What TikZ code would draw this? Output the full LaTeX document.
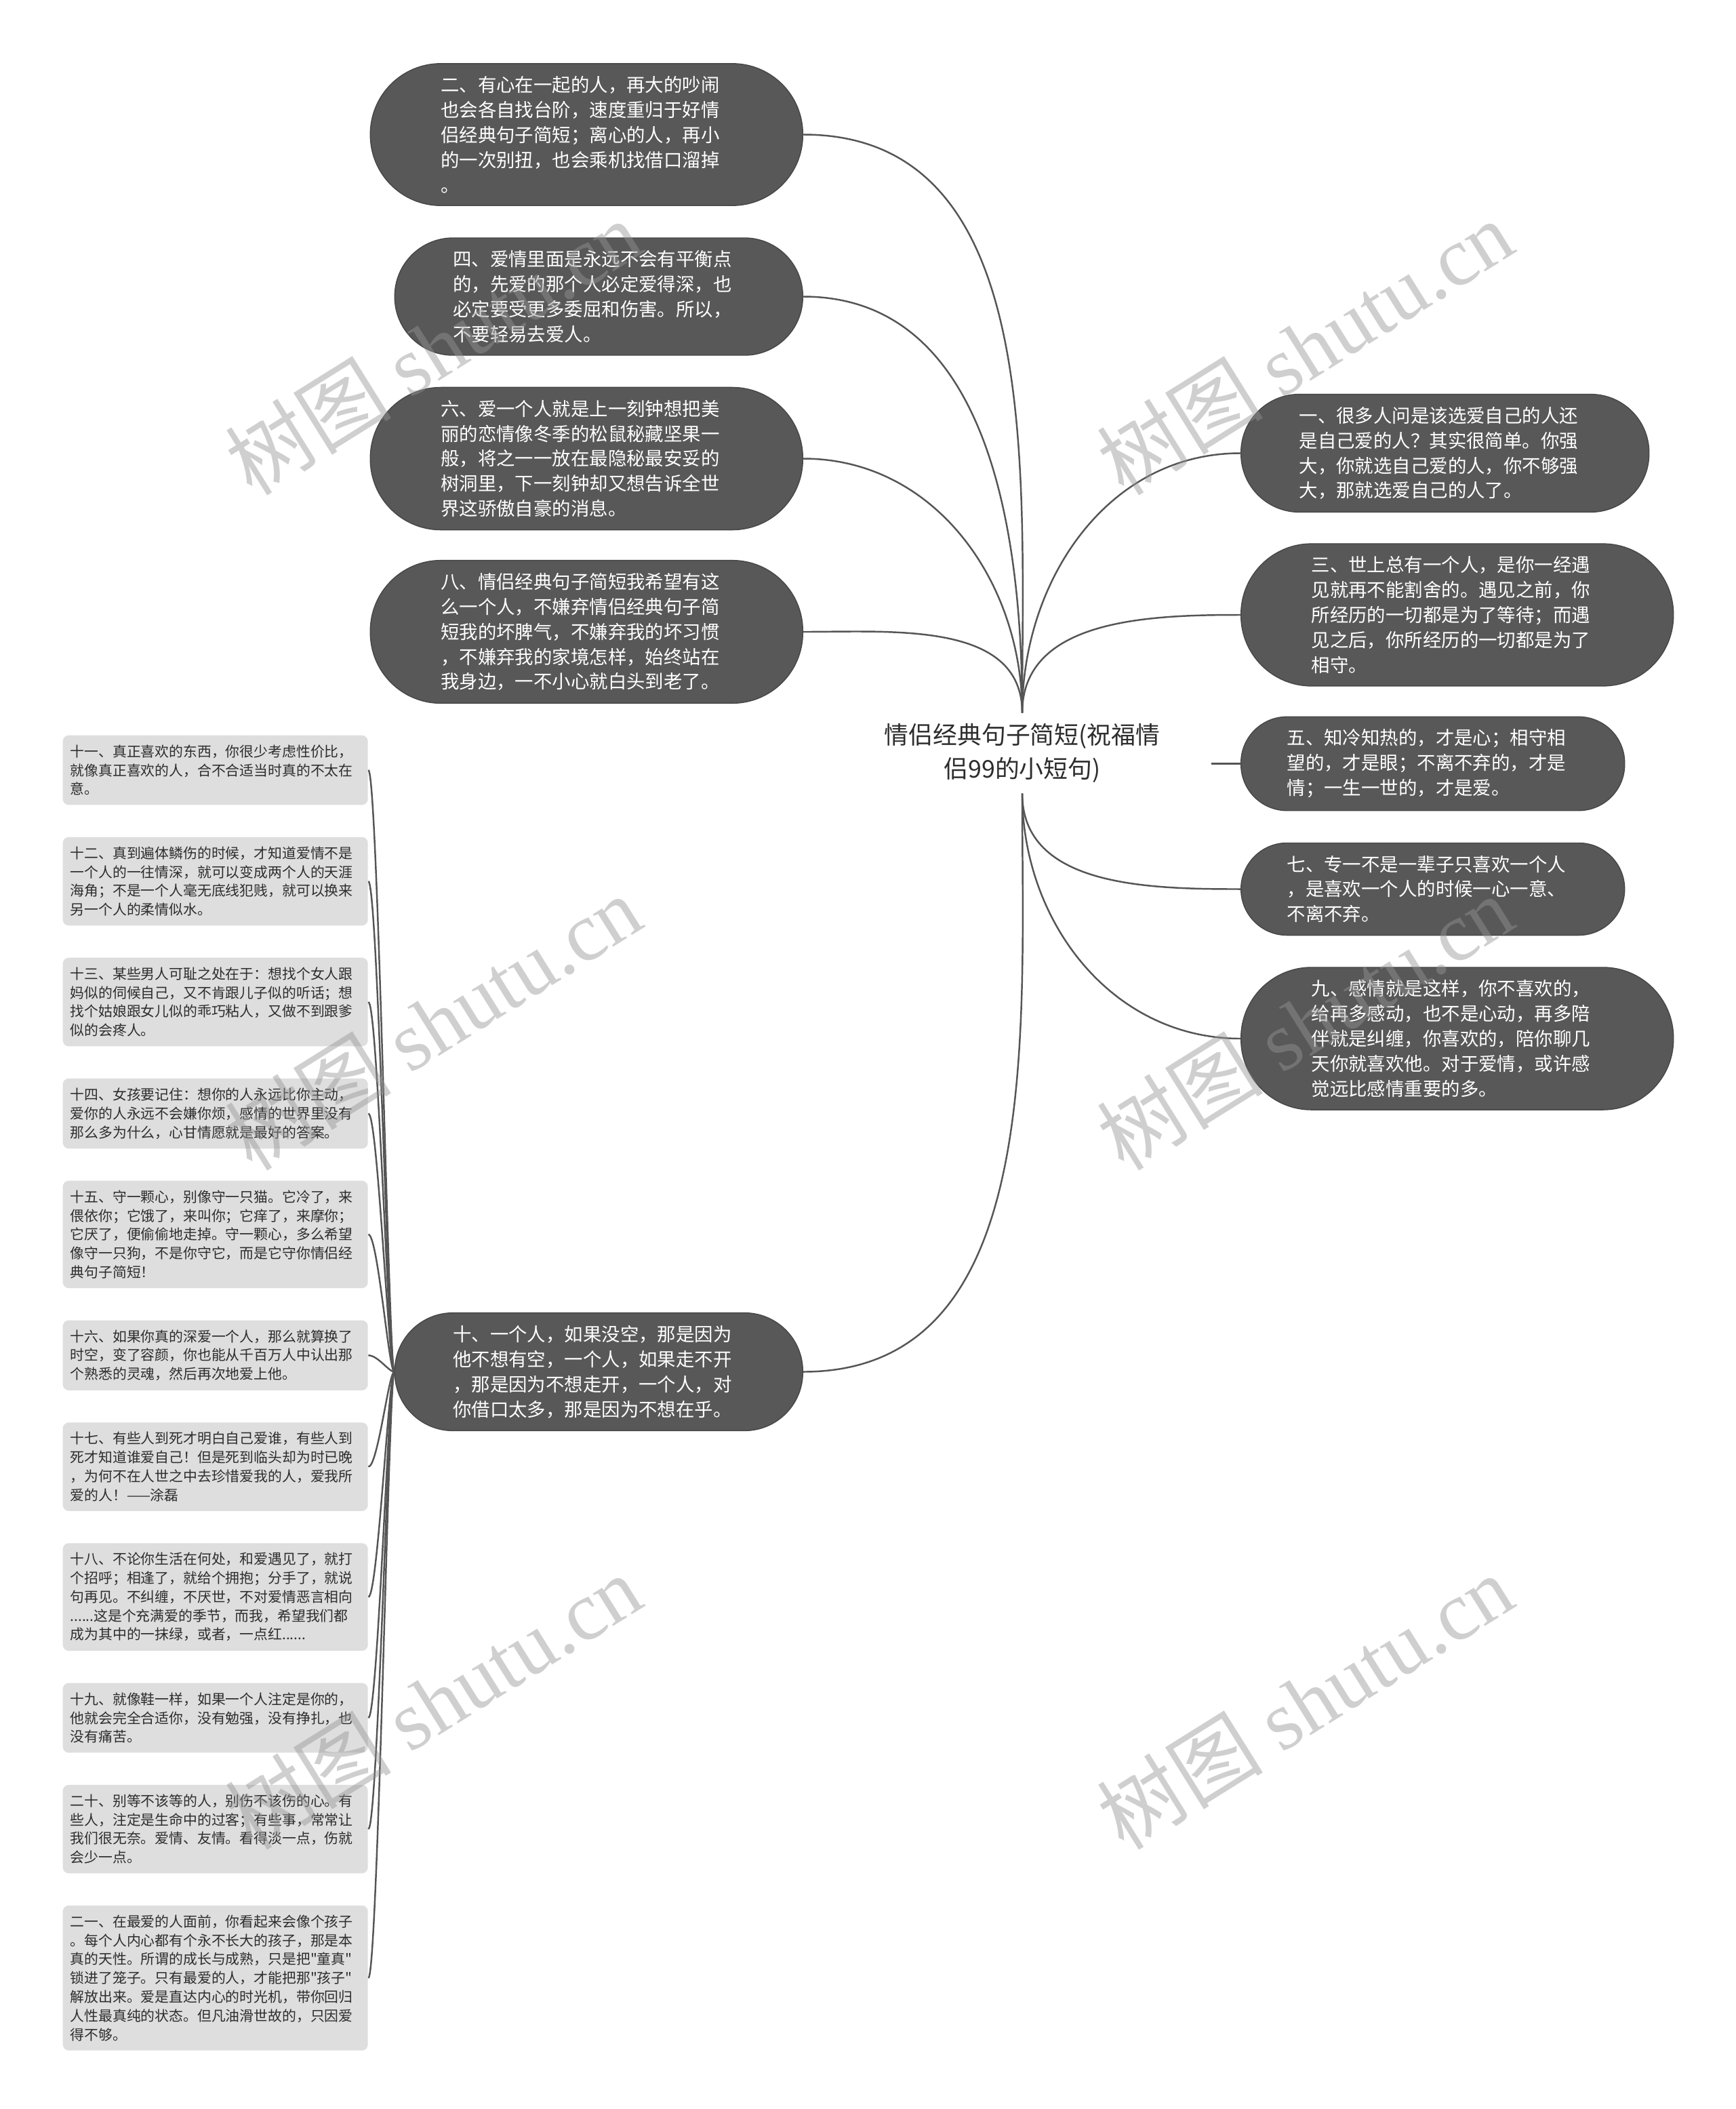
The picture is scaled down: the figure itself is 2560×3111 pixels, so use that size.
\documentclass[tikz,border=0pt]{standalone}
\usepackage{fontspec}
\newfontfamily\cjk{Noto Sans CJK SC}
\newfontfamily\wmserif{Liberation Serif}
\usetikzlibrary{positioning}
\definecolor{leafgray}{RGB}{88,88,88}
\definecolor{leafedge}{RGB}{70,70,70}
\definecolor{notegray}{RGB}{222,222,222}
\definecolor{linkgray}{RGB}{85,85,85}
\definecolor{inkgray}{RGB}{45,45,45}
\definecolor{wmgray}{RGB}{150,150,150}
\tikzset{
  hub/.style={align=center, inner xsep=7.5mm, inner ysep=1.5mm, text=inkgray,
              font=\cjk\fontsize{10.2}{14.2}\selectfont},
  leaf/.style={rectangle, rounded corners=#1, inner xsep=#1, draw=leafedge, fill=leafgray,
               line width=0.4pt, text=white, text width=43mm, align=left, inner ysep=1.85mm,
               font=\cjk\fontsize{7.8}{10.5}\selectfont},
  leaf/.default=10.4mm,
  note/.style={rounded corners=2.5pt, fill=notegray, text=inkgray, text width=42.8mm,
               align=left, inner xsep=1.1mm, inner ysep=1.4mm,
               font=\cjk\fontsize{5.93}{7.9}\selectfont},
  link/.style={draw=linkgray, line width=0.7pt},
  wmark/.style={text=wmgray, opacity=0.45, rotate=32, font=\cjk\fontsize{35}{35}\selectfont},
}

\begin{document}
\begin{tikzpicture}[x=0.1mm, y=0.1mm, node distance=4.6mm]
  \fill[white] (0,0) rectangle (2560,-3111);
  \node[hub] (root) at (1508,-1111) {情侣经典句子简短(祝福情\\侣99的小短句)};

  % left branch
  \node[leaf, anchor=east] (n2) at (1185,-198.5) {二、有心在一起的人，再大的吵闹\\也会各自找台阶，速度重归于好情\\侣经典句子简短；离心的人，再小\\的一次别扭，也会乘机找借口溜掉\\。};
  \node[leaf=8.6mm, anchor=east] (n4) at (1185,-437.5) {四、爱情里面是永远不会有平衡点\\的，先爱的那个人必定爱得深，也\\必定要受更多委屈和伤害。所以，\\不要轻易去爱人。};
  \node[leaf, anchor=east] (n6) at (1185,-676.5) {六、爱一个人就是上一刻钟想把美\\丽的恋情像冬季的松鼠秘藏坚果一\\般，将之一一放在最隐秘最安妥的\\树洞里，下一刻钟却又想告诉全世\\界这骄傲自豪的消息。};
  \node[leaf, anchor=east] (n8) at (1185,-932) {八、情侣经典句子简短我希望有这\\么一个人，不嫌弃情侣经典句子简\\短我的坏脾气，不嫌弃我的坏习惯\\，不嫌弃我的家境怎样，始终站在\\我身边，一不小心就白头到老了。};
  \node[leaf=8.6mm, anchor=east] (n10) at (1185,-2023.5) {十、一个人，如果没空，那是因为\\他不想有空，一个人，如果走不开\\，那是因为不想走开，一个人，对\\你借口太多，那是因为不想在乎。};

  % right branch
  \node[leaf=8.6mm, anchor=west] (n1) at (1830,-668.5) {一、很多人问是该选爱自己的人还\\是自己爱的人？其实很简单。你强\\大，你就选自己爱的人，你不够强\\大，那就选爱自己的人了。};
  \node[leaf, anchor=west] (n3) at (1830,-907) {三、世上总有一个人，是你一经遇\\见就再不能割舍的。遇见之前，你\\所经历的一切都是为了等待；而遇\\见之后，你所经历的一切都是为了\\相守。};
  \node[leaf=6.8mm, anchor=west] (n5) at (1830,-1126.5) {五、知冷知热的，才是心；相守相\\望的，才是眼；不离不弃的，才是\\情；一生一世的，才是爱。};
  \node[leaf=6.8mm, anchor=west] (n7) at (1830,-1311.5) {七、专一不是一辈子只喜欢一个人\\，是喜欢一个人的时候一心一意、\\不离不弃。};
  \node[leaf, anchor=west] (n9) at (1830,-1532) {九、感情就是这样，你不喜欢的，\\给再多感动，也不是心动，再多陪\\伴就是纠缠，你喜欢的，陪你聊几\\天你就喜欢他。对于爱情，或许感\\觉远比感情重要的多。};

  % notes hanging off ten
  \node[note, anchor=north west] (s11) at (92,-1084) {十一、真正喜欢的东西，你很少考虑性价比，\\就像真正喜欢的人，合不合适当时真的不太在\\意。};
  \node[note, below=of s11] (s12) {十二、真到遍体鳞伤的时候，才知道爱情不是\\一个人的一往情深，就可以变成两个人的天涯\\海角；不是一个人毫无底线犯贱，就可以换来\\另一个人的柔情似水。};
  \node[note, below=of s12] (s13) {十三、某些男人可耻之处在于：想找个女人跟\\妈似的伺候自己，又不肯跟儿子似的听话；想\\找个姑娘跟女儿似的乖巧粘人，又做不到跟爹\\似的会疼人。};
  \node[note, below=of s13] (s14) {十四、女孩要记住：想你的人永远比你主动，\\爱你的人永远不会嫌你烦，感情的世界里没有\\那么多为什么，心甘情愿就是最好的答案。};
  \node[note, below=of s14] (s15) {十五、守一颗心，别像守一只猫。它冷了，来\\偎依你；它饿了，来叫你；它痒了，来摩你；\\它厌了，便偷偷地走掉。守一颗心，多么希望\\像守一只狗，不是你守它，而是它守你情侣经\\典句子简短！};
  \node[note, below=of s15] (s16) {十六、如果你真的深爱一个人，那么就算换了\\时空，变了容颜，你也能从千百万人中认出那\\个熟悉的灵魂，然后再次地爱上他。};
  \node[note, below=of s16] (s17) {十七、有些人到死才明白自己爱谁，有些人到\\死才知道谁爱自己！但是死到临头却为时已晚\\，为何不在人世之中去珍惜爱我的人，爱我所\\爱的人！——涂磊};
  \node[note, below=of s17] (s18) {十八、不论你生活在何处，和爱遇见了，就打\\个招呼；相逢了，就给个拥抱；分手了，就说\\句再见。不纠缠，不厌世，不对爱情恶言相向\\......这是个充满爱的季节，而我，希望我们都\\成为其中的一抹绿，或者，一点红......};
  \node[note, below=of s18] (s19) {十九、就像鞋一样，如果一个人注定是你的，\\他就会完全合适你，没有勉强，没有挣扎，也\\没有痛苦。};
  \node[note, below=of s19] (s20) {二十、别等不该等的人，别伤不该伤的心。有\\些人，注定是生命中的过客；有些事，常常让\\我们很无奈。爱情、友情。看得淡一点，伤就\\会少一点。};
  \node[note, below=of s20] (s21) {二一、在最爱的人面前，你看起来会像个孩子\\。每个人内心都有个永不长大的孩子，那是本\\真的天性。所谓的成长与成熟，只是把"童真"\\锁进了笼子。只有最爱的人，才能把那"孩子"\\解放出来。爱是直达内心的时光机，带你回归\\人性最真纯的状态。但凡油滑世故的，只因爱\\得不够。};

  % links
  \draw[link] (root.north) to[out=90,in=0] (n2.east);
  \draw[link] (root.north) to[out=90,in=0] (n4.east);
  \draw[link] (root.north) to[out=90,in=0] (n6.east);
  \draw[link] (root.north) to[out=90,in=0] (n8.east);
  \draw[link] (root.south) to[out=-90,in=0] (n10.east);
  \draw[link] (root.north) to[out=90,in=180] (n1.west);
  \draw[link] (root.north) to[out=90,in=180] (n3.west);
  \draw[link] (n5.west -| root.east) -- (n5.west);
  \draw[link] (root.south) to[out=-90,in=180] (n7.west);
  \draw[link] (root.south) to[out=-90,in=180] (n9.west);
  \foreach \k in {11,...,21}
    \draw[link] (n10.west) .. controls +(-8,0) and +(14,0) .. (s\k.east);

  % watermark
  \foreach \wx/\wy [count=\i] in {639/-512, 1925/-512, 639/-1508, 1925/-1508, 639/-2510, 1925/-2510}
    \node[wmark] (wm\i) at (\wx,\wy) {树图 {\wmserif shutu.cn}};
\end{tikzpicture}
\end{document}
